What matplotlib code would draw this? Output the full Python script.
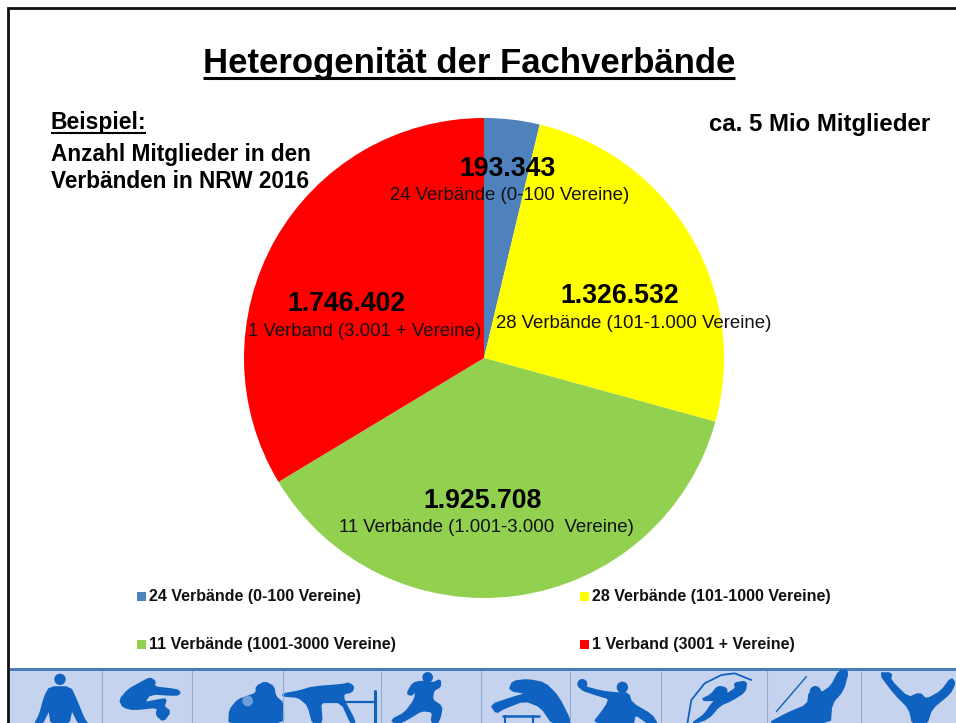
import matplotlib
matplotlib.use("Agg")
import matplotlib.pyplot as plt
from matplotlib.patches import Polygon, Circle, Rectangle

plt.rcParams['font.family'] = ['Liberation Sans', 'DejaVu Sans']

W, H = 956, 723

# data
categories = ["24 Verbände (0-100 Vereine)", "28 Verbände (101-1000 Vereine)",
              "11 Verbände (1001-3000 Vereine)", "1 Verband (3001 + Vereine)"]
values = [193343, 1326532, 1925708, 1746402]
value_labels = ["193.343", "1.326.532", "1.925.708", "1.746.402"]
sub_labels = ["24 Verbände (0-100 Vereine)", "28 Verbände (101-1.000 Vereine)",
              "11 Verbände (1.001-3.000  Vereine)", "1 Verband (3.001 + Vereine)"]
colors = ["#4f81bd", "#ffff00", "#92d050", "#ff0000"]

fig = plt.figure(figsize=(W / 100, H / 100), dpi=100, facecolor="white")

# pixel overlay
bg = fig.add_axes([0, 0, 1, 1], zorder=0)
bg.set_xlim(0, W); bg.set_ylim(H, 0); bg.axis("off")
over = fig.add_axes([0, 0, 1, 1], zorder=2)
over.set_xlim(0, W); over.set_ylim(H, 0); over.axis("off"); over.patch.set_alpha(0)

# slide frame
bg.add_patch(Rectangle((8.5, 8), W, H, fc="white", ec="#111111", lw=2.0))

# pie
cx, cy, r = 484, 358, 240
pie_ax = fig.add_axes([(cx - r) / W, 1 - (cy + r) / H, 2 * r / W, 2 * r / H], zorder=1)
pie_ax.pie(values, colors=colors, startangle=90, counterclock=False, radius=1.0,
           wedgeprops=dict(linewidth=0))
pie_ax.set_xlim(-1, 1); pie_ax.set_ylim(-1, 1)

def text_ul(x, y, s, size, x0, x1, yl, lw):
    over.text(x, y, s, fontsize=size, fontweight="bold", ha="left", va="center", color="black")
    over.plot([x0, x1], [yl, yl], color="black", lw=lw, solid_capstyle="butt")

text_ul(203, 63, "Heterogenität der Fachverbände", 25.0, 203, 735, 78, 2.2)
text_ul(51, 123, "Beispiel:", 16.5, 51, 146, 133, 1.5)
over.text(51, 155, "Anzahl Mitglieder in den", fontsize=16.3, fontweight="bold", va="center", color="black")
over.text(51, 181, "Verbänden in NRW 2016", fontsize=16.3, fontweight="bold", va="center", color="black")
over.text(930, 125, "ca. 5 Mio Mitglieder", fontsize=17.3, fontweight="bold", va="center", ha="right", color="black")

# slice labels
label_pos = [(508, 169, 510, 196), (620, 296, 634, 324), (483, 501, 486, 528), (347, 304, 365, 332)]
for (xv, yv, xs, ys), v, s in zip(label_pos, value_labels, sub_labels):
    over.text(xv, yv, v, fontsize=19.2, fontweight="bold", ha="center", va="center", color="black")
    over.text(xs, ys, s, fontsize=13.4, ha="center", va="center", color="#111111")

# legend
leg_pos = [(137, 596), (580, 596), (137, 644), (580, 644)]
for (lx, ly), c, t in zip(leg_pos, colors, categories):
    over.add_patch(Rectangle((lx, ly - 4.5), 9, 9, fc=c, ec="none"))
    over.text(lx + 12, ly, t, fontsize=11.5, fontweight="bold", va="center", color="#111111")

# bottom picture strip
STRIP = "#c5d3ee"; BLUE = "#0f62c0"
over.add_patch(Rectangle((10, 668), W - 10, H - 668, fc=STRIP, ec="none"))
over.add_patch(Rectangle((10, 668), W - 10, 3, fc="#4a7ebb", ec="none"))
for d in [102, 192, 283, 381, 481, 570, 661, 767, 861]:
    over.plot([d, d], [671, H], color="#8fabd9", lw=0.8)

def zc(pts, off=0):
    return [(off + x / 3, 650 + y / 3) for x, y in pts]

def chaikin(p):
    out = []
    n = len(p)
    for i in range(n):
        a, b = p[i], p[(i + 1) % n]
        out.append((0.8 * a[0] + 0.2 * b[0], 0.8 * a[1] + 0.2 * b[1]))
        out.append((0.2 * a[0] + 0.8 * b[0], 0.2 * a[1] + 0.8 * b[1]))
    return out

def poly(pts, off=0):
    over.add_patch(Polygon(chaikin(zc(pts, off)), closed=True, fc=BLUE, ec=BLUE, lw=1.6, joinstyle="round"))

def head(x, y, rad, off=0, c=BLUE):
    over.add_patch(Circle((off + x / 3, 650 + y / 3), rad / 3, fc=c, ec="none"))

def seg(pts, off=0, lw=1.5):
    p = zc(pts, off)
    over.plot([a for a, _ in p], [b for _, b in p], color=BLUE, lw=lw, solid_capstyle="round")

# left half silhouettes
head(180, 88, 17)
poly([(150,112),(210,112),(228,150),(250,205),(262,222),(238,222),(215,175),(205,222),(155,222),(148,175),(125,222),(105,222),(120,195),(135,140)])
poly([(360,150),(385,120),(430,95),(450,85),(465,95),(460,112),(530,120),(540,128),(530,135),(450,130),(430,160),(480,150),(498,148),(490,170),(510,185),(490,212),(470,195),(475,170),(400,178),(370,170)])
poly([(688,222),(690,180),(715,150),(745,140),(770,130),(770,110),(795,97),(820,110),(825,140),(849,160),(849,222)])
head(743, 153, 16, c="#6f9fd8")
poly([(850,133),(895,125),(940,112),(1030,105),(1045,100),(1060,110),(1055,125),(1030,130),(1030,150),(1065,215),(1055,222),(1025,155),(960,150),(965,222),(940,222),(925,165),(895,140),(850,137)])
seg([(950,155),(1125,155)], lw=1.6)
seg([(1125,122),(1125,222)], lw=2.2)
head(1283, 82, 16)
poly([(1265,95),(1300,100),(1320,90),(1320,110),(1300,120),(1295,150),(1325,170),(1320,200),(1310,222),(1295,215),(1300,185),(1265,180),(1225,205),(1190,222),(1175,210),(1215,190),(1245,150),(1250,115),(1235,135),(1222,130),(1240,100)])

# right half silhouettes
o = 478
poly([(40,165),(100,145),(150,130),(95,120),(105,95),(150,90),(200,100),(240,140),(275,210),(275,222),(225,222),(190,170),(140,150),(75,175),(55,188)], o)
seg([(75,197),(182,197)], o, 1.8)
seg([(80,197),(80,222)], o, 1.5)
seg([(165,197),(165,222)], o, 1.5)
head(433, 112, 17, o)
head(313, 102, 15, o)
poly([(315,110),(370,125),(415,130),(450,130),(460,160),(520,195),(537,222),(515,222),(470,190),(465,222),(345,222),(385,170),(395,145),(360,135),(310,118)], o)
seg([(628,222),(640,150),(680,100),(730,75),(770,70),(820,90)], o, 1.3)
poly([(770,100),(805,95),(800,125),(760,150),(725,165),(690,205),(640,222),(680,195),(700,165),(715,150),(670,150),(700,135),(720,110),(745,115),(745,135),(775,115)], o)
seg([(895,185),(985,80)], o, 1.0)
head(1012, 125, 17, o)
poly([(870,222),(930,190),(990,165),(995,125),(1030,130),(1060,110),(1085,62),(1110,62),(1095,120),(1060,160),(1055,222)], o)
poly([(1205,70),(1240,70),(1235,90),(1290,145),(1325,130),(1345,150),(1390,125),(1420,85),(1430,100),(1415,130),(1360,175),(1345,222),(1305,222),(1295,175),(1250,130)], o)

fig.savefig("out.png", dpi=100, facecolor="white")
